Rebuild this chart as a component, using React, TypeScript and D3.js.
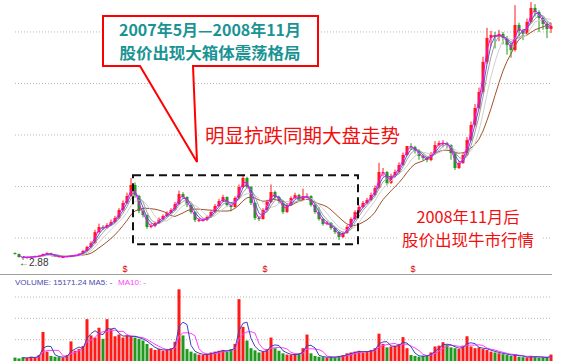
import React from "react";
import * as d3 from "d3";

// daily candles, sampled (price in yuan)
const firstOpen = 3.55;
const closes = [
  3.45, 3.16, 3.06, 3.16, 3.16, 3.25, 3.25, 3.45, 3.54, 3.35,
  3.25, 3.16, 3.16, 3.25, 3.25, 3.35, 3.45, 3.74, 4.13, 4.51,
  5.58, 6.07, 5.97, 6.26, 6.55, 6.94, 7.72, 8.4, 9.08, 10.15,
  9.08, 7.62, 7.23, 6.07, 6.17, 6.46, 6.84, 7.14, 7.43, 7.72,
  8.3, 9.27, 8.98, 8.2, 7.52, 6.75, 6.75, 6.75, 7.04, 7.52,
  8.11, 8.59, 8.98, 8.2, 8.01, 8.88, 9.95, 10.83, 9.95, 8.4,
  6.94, 6.84, 7.72, 8.5, 9.47, 8.98, 8.59, 7.52, 8.2, 8.88,
  9.17, 8.69, 9.08, 9.08, 8.2, 7.52, 6.84, 6.36, 6.46, 5.97,
  5.58, 5.1, 5.49, 6.07, 6.84, 7.52, 8.01, 8.4, 8.69, 9.17,
  9.85, 11.41, 11.41, 10.34, 11.02, 11.41, 12.09, 13.06, 13.93, 13.83,
  13.45, 12.96, 12.77, 12.57, 13.16, 14.03, 14.22, 14.22, 14.03, 13.25,
  11.8, 12.28, 13.06, 14.51, 15.97, 17.62, 19.17, 22.09, 24.42, 24.71,
  24.51, 24.81, 24.42, 23.74, 23.25, 25.68, 25.1, 24.81, 25.97, 27.33,
  26.94, 26.36, 25.78, 25.29, 25.58,
];
const highs = [
  3.6, 3.5, 3.2, 3.22, 3.25, 3.3, 3.34, 3.5, 3.62, 3.58,
  3.4, 3.3, 3.24, 3.3, 3.33, 3.42, 3.55, 3.85, 4.25, 4.7,
  5.8, 6.4, 6.25, 6.45, 6.8, 7.15, 7.9, 8.65, 9.4, 10.83,
  10.4, 9.2, 7.9, 7.3, 6.4, 6.6, 7.0, 7.3, 7.6, 7.9,
  8.5, 9.6, 9.45, 9.05, 8.3, 7.6, 6.95, 6.9, 7.2, 7.7,
  8.3, 8.8, 9.2, 9.05, 8.35, 9.05, 10.2, 11.2, 10.95, 10.05,
  8.5, 7.15, 7.9, 8.7, 10.2, 9.6, 9.1, 8.7, 8.4, 9.05,
  9.4, 9.3, 9.8, 9.35, 9.15, 8.3, 8.0, 6.95, 6.65, 6.55,
  6.05, 5.65, 5.65, 6.25, 7.0, 7.7, 8.2, 8.6, 8.9, 9.4,
  10.1, 12.3, 11.8, 11.5, 11.25, 11.65, 12.35, 13.3, 14.6, 14.2,
  13.95, 13.6, 13.1, 12.9, 13.35, 14.4, 14.45, 14.5, 14.35, 14.1,
  13.4, 12.5, 13.3, 14.8, 16.3, 18.0, 19.6, 22.6, 25.4, 25.1,
  25.0, 25.2, 25.0, 24.6, 24.0, 27.6, 25.9, 25.3, 26.3, 27.9,
  27.7, 27.1, 26.5, 26.0, 25.9,
];
const lows = [
  3.4, 3.1, 2.88, 3.0, 3.08, 3.12, 3.18, 3.22, 3.4, 3.3,
  3.2, 3.1, 3.08, 3.12, 3.18, 3.22, 3.3, 3.4, 3.7, 4.05,
  4.45, 5.5, 5.8, 5.9, 6.15, 6.45, 6.85, 7.6, 8.3, 9.0,
  8.9, 7.4, 7.0, 5.9, 5.95, 6.05, 6.4, 6.75, 7.05, 7.35,
  7.65, 8.2, 8.8, 8.0, 7.35, 6.55, 6.55, 6.6, 6.65, 6.95,
  7.45, 8.0, 8.5, 8.05, 7.6, 7.95, 8.8, 9.85, 9.8, 8.2,
  6.75, 6.65, 6.8, 7.65, 8.4, 8.8, 8.4, 7.35, 7.45, 8.1,
  8.8, 8.55, 8.6, 8.9, 8.05, 7.35, 6.7, 6.2, 6.25, 5.8,
  5.4, 4.8, 5.0, 5.4, 6.0, 6.75, 7.4, 7.9, 8.3, 8.6,
  9.1, 9.8, 11.0, 10.1, 10.25, 10.9, 11.3, 12.0, 12.95, 13.55,
  13.2, 12.6, 12.55, 12.35, 12.45, 13.05, 13.9, 13.8, 13.7, 12.6,
  11.6, 11.7, 12.2, 12.95, 14.4, 15.8, 17.5, 19.0, 21.9, 23.6,
  23.4, 24.1, 23.8, 22.8, 22.5, 23.1, 24.6, 24.2, 24.7, 25.8,
  26.5, 25.0, 25.2, 24.4, 24.9,
];
const volumes = [
  8000, 6000, 9000, 7000, 10000, 8000, 14000, 68000, 22000, 12000,
  10000, 9000, 8000, 14000, 46000, 24000, 28000, 35000, 98000, 60000,
  55000, 78000, 52000, 98000, 75000, 58000, 62000, 55000, 60000, 58000,
  55000, 52000, 48000, 40000, 30000, 26000, 28000, 24000, 26000, 30000,
  45000, 168000, 60000, 28000, 22000, 18000, 15000, 14000, 16000, 20000,
  22000, 24000, 26000, 22000, 28000, 40000, 145000, 80000, 48000, 30000,
  25000, 20000, 22000, 28000, 55000, 30000, 24000, 18000, 15000, 14000,
  16000, 18000, 30000, 62000, 18000, 12000, 10000, 9000, 8000, 10000,
  9000, 12000, 14000, 18000, 20000, 22000, 24000, 20000, 22000, 26000,
  30000, 64000, 40000, 32000, 34000, 36000, 40000, 56000, 30000, 14000,
  12000, 10000, 12000, 14000, 20000, 34000, 36000, 44000, 38000, 32000,
  30000, 28000, 36000, 58000, 34000, 30000, 32000, 28000, 26000, 22000,
  20000, 18000, 16000, 14000, 12000, 16000, 10000, 9000, 8000, 12000,
  10000, 8000, 9000, 7000, 15171.24,
];

const priceGrid = [5, 10, 15, 20, 25];
const volumeGrid = [50000, 100000, 150000];
const markerIdx = [27.5, 62.5, 99.5];
// consolidation box, May 2007 - Nov 2008
const boxFrom = 29.5;
const boxTo = 85.75;
const boxHigh = 11.1;
const boxLow = 4.4;

const priceMA = [
  { n: 10, color: "#a0522d" },
  { n: 6, color: "#d0d0d0" },
  { n: 4, color: "#a0a0a0" },
  { n: 3, color: "#5a5ad0" },
  { n: 2, color: "#ff00ff" },
];
const volumeMA = [
  { n: 5, color: "#ff40ff" },
  { n: 3, color: "#4040c0" },
];

const UP = "#ff1a1a";
const DOWN = "#1f9a1f";
const RED = "#f01010";
const TEAL = "#199393";
const CJK = "'Noto Sans CJK SC', sans-serif";

function movingAvg(arr: number[], n: number): (number | null)[] {
  return arr.map((_, i) => (i < n - 1 ? null : d3.mean(arr.slice(i - n + 1, i + 1)) as number));
}

export default function App() {
  const n = closes.length;
  const opens = closes.map((c, i) => (i === 0 ? firstOpen : closes[i - 1]));

  const x = d3.scaleLinear().domain([0, n - 1]).range([15, 551]);
  const y = d3.scaleLinear().domain([1.9, 28.1]).range([270, 0]);
  const vy = d3.scaleLinear().domain([0, 150000]).range([361, 297]);

  const line = (scale: d3.ScaleLinear<number, number>) =>
    d3
      .line<number | null>()
      .defined((d) => d != null)
      .x((_, i) => x(i))
      .y((d) => scale(d as number));

  const lowIdx = d3.minIndex(lows);

  return (
    <svg width={564} height={364} style={{ position: "absolute", left: 0, top: 0, background: "#fff" }}>
      {/* price grid */}
      {priceGrid.map((p) => (
        <line key={p} x1={15} x2={552} y1={y(p)} y2={y(p)} stroke="#b8b8b8" strokeDasharray="1,2" />
      ))}
      {/* volume grid + separator */}
      <line x1={0} x2={552} y1={274.5} y2={274.5} stroke="#a0a0a0" />
      {volumeGrid.map((v) => (
        <line key={v} x1={15} x2={552} y1={vy(v)} y2={vy(v)} stroke="#b8b8b8" strokeDasharray="1,2" />
      ))}

      {/* candles */}
      {closes.map((c, i) => {
        const o = opens[i];
        const col = c >= o ? UP : DOWN;
        const top = y(Math.max(o, c));
        const h = Math.max(1, Math.abs(y(o) - y(c)));
        return (
          <g key={i}>
            <line x1={x(i)} x2={x(i)} y1={y(highs[i])} y2={y(lows[i])} stroke={col} />
            <rect x={x(i) - 1.5} y={top} width={3} height={h} fill={col} />
          </g>
        );
      })}
      {priceMA.map((m) => (
        <path key={m.n} d={line(y)(movingAvg(closes, m.n)) || ""} fill="none" stroke={m.color} strokeWidth={1} />
      ))}

      {/* volume bars */}
      {volumes.map((v, i) => (
        <rect
          key={i}
          x={x(i) - 1.5}
          y={vy(v)}
          width={3}
          height={vy(0) - vy(v)}
          fill={closes[i] >= opens[i] ? UP : DOWN}
        />
      ))}
      {volumeMA.map((m) => (
        <path key={m.n} d={line(vy)(movingAvg(volumes, m.n)) || ""} fill="none" stroke={m.color} strokeWidth={1} />
      ))}

      {/* low label */}
      <text x={x(lowIdx) - 4} y={y(lows[lowIdx]) + 6} fontSize={10} fontFamily="Arial, sans-serif" fill="#333">
        {"\u2190" + d3.format(".2f")(lows[lowIdx])}
      </text>
      {markerIdx.map((m) => (
        <text key={m} x={x(m)} y={272} fontSize={9} textAnchor="middle" fill="#e00000" fontFamily="Arial, sans-serif">
          $
        </text>
      ))}

      {/* volume legend */}
      <text x={15} y={285} fontSize={8} fontFamily="Arial, sans-serif" fill="#4848b0">
        {`VOLUME: ${d3.format(".2f")(volumes[n - 1])} MA5: -`}
      </text>
      <text x={118} y={285} fontSize={8} fontFamily="Arial, sans-serif" fill="#ff40ff">
        MA10: -
      </text>

      {/* consolidation box */}
      <rect
        x={x(boxFrom)}
        y={y(boxHigh)}
        width={x(boxTo) - x(boxFrom)}
        height={y(boxLow) - y(boxHigh)}
        fill="none"
        stroke="#111"
        strokeWidth={2}
        strokeDasharray="8,5"
      />

      {/* callout */}
      <path d="M103,16H318V66H193L197,162L140,66H103Z" fill="#fff" stroke="#ff0000" strokeWidth={2} />
      <text x={210} y={35.5} fontSize={15.5} fontWeight="bold" textAnchor="middle" fill={TEAL} fontFamily={CJK}
        textLength={182} lengthAdjust="spacingAndGlyphs">
        2007年5月—2008年11月
      </text>
      <text x={210} y={58.5} fontSize={15.5} fontWeight="bold" textAnchor="middle" fill={TEAL} fontFamily={CJK}
        textLength={181} lengthAdjust="spacingAndGlyphs">
        股价出现大箱体震荡格局
      </text>

      <rect x={199} y={125} width={210} height={21} fill="#fff" />
      <text x={205} y={143} fontSize={19.5} fill={RED} fontFamily={CJK}>
        明显抗跌同期大盘走势
      </text>

      <rect x={398} y={207} width={144} height={42} fill="#fff" />
      <text x={468} y={223} fontSize={15.5} fill={RED} textAnchor="middle" fontFamily={CJK}
        textLength={103} lengthAdjust="spacingAndGlyphs">
        2008年11月后
      </text>
      <text x={468} y={246} fontSize={15.5} fill={RED} textAnchor="middle" fontFamily={CJK}
        textLength={132} lengthAdjust="spacingAndGlyphs">
        股价出现牛市行情
      </text>
    </svg>
  );
}
